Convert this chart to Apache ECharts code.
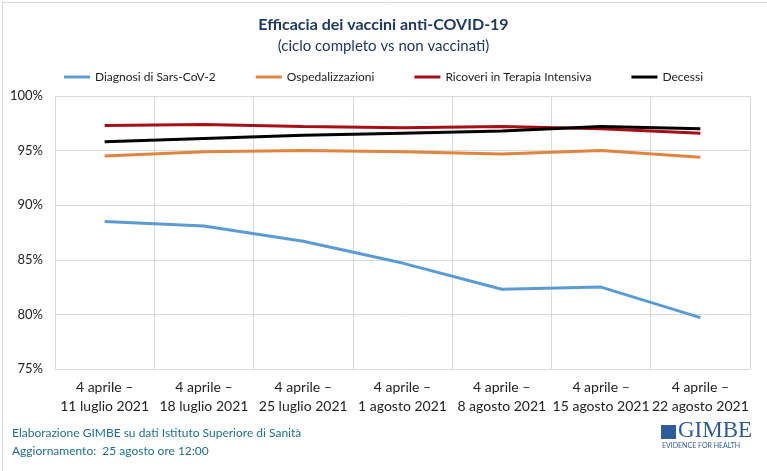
<!DOCTYPE html>
<html>
<head>
<meta charset="utf-8">
<script src="https://cdn.jsdelivr.net/npm/echarts@6/dist/echarts.min.js"></script>
<style>
html, body { margin: 0; padding: 0; background: #fff; }
#main { width: 767px; height: 471px; }
</style>
</head>
<body>
<div id="main"></div>
<script>
var categories = ['4 aprile –\n11 luglio 2021', '4 aprile –\n18 luglio 2021', '4 aprile –\n25 luglio 2021',
    '4 aprile –\n1 agosto 2021', '4 aprile –\n8 agosto 2021', '4 aprile –\n15 agosto 2021', '4 aprile –\n22 agosto 2021'];
var diagnosi = [88.5, 88.1, 86.7, 84.7, 82.3, 82.5, 79.7];
var ospedalizzazioni = [94.5, 94.9, 95.0, 94.9, 94.7, 95.0, 94.4];
var terapiaIntensiva = [97.3, 97.4, 97.2, 97.1, 97.2, 97.0, 96.6];
var decessi = [95.8, 96.1, 96.4, 96.6, 96.8, 97.2, 97.0];

var font = 'Lato';
var dom = document.getElementById('main');
var myChart = echarts.init(dom);

function line(name, data, color) {
    return {
        name: name,
        type: 'line',
        data: data,
        symbol: 'none',
        lineStyle: {color: color, width: 3},
        itemStyle: {color: color}
    };
}

var option = {
    backgroundColor: '#fff',
    animation: false,
    textStyle: {fontFamily: font},
    title: {
        text: 'Efficacia dei vaccini anti-COVID-19',
        subtext: '(ciclo completo vs non vaccinati)',
        left: 'center',
        top: 12,
        itemGap: 6,
        textStyle: {fontFamily: font, fontSize: 16, fontWeight: 'bold', color: '#1f3864'},
        subtextStyle: {fontFamily: font, fontSize: 15, color: '#1f3864'}
    },
    legend: {
        top: 66,
        left: 'center',
        itemGap: 40,
        itemWidth: 26,
        itemHeight: 3,
        icon: 'rect',
        textStyle: {fontFamily: font, fontSize: 12, color: '#222'},
        data: ['Diagnosi di Sars-CoV-2', 'Ospedalizzazioni', 'Ricoveri in Terapia Intensiva', 'Decessi']
    },
    grid: {left: 55, right: 17, top: 96, bottom: 102},
    xAxis: {
        type: 'category',
        data: categories,
        boundaryGap: true,
        axisLine: {lineStyle: {color: '#d9d9d9'}},
        axisTick: {show: false},
        splitLine: {show: true, lineStyle: {color: '#d9d9d9'}},
        axisLabel: {fontFamily: font, fontSize: 14, color: '#222', lineHeight: 19, margin: 9, interval: 0}
    },
    yAxis: {
        type: 'value',
        min: 75,
        max: 100,
        interval: 5,
        axisLine: {show: false},
        axisTick: {show: false},
        splitLine: {lineStyle: {color: '#d9d9d9'}},
        axisLabel: {fontFamily: font, fontSize: 13, color: '#222', margin: 12, formatter: '{value}%'}
    },
    series: [
        line('Diagnosi di Sars-CoV-2', diagnosi, '#5b9bd5'),
        line('Ospedalizzazioni', ospedalizzazioni, '#e0843f'),
        line('Ricoveri in Terapia Intensiva', terapiaIntensiva, '#a50f15'),
        line('Decessi', decessi, '#000000')
    ],
    graphic: [
        {type: 'text', left: 12, top: 427, style: {text: 'Elaborazione GIMBE su dati Istituto Superiore di Sanità', fill: '#1f6f8b', font: '12px ' + font}},
        {type: 'text', left: 12, top: 445, style: {text: 'Aggiornamento:  25 agosto ore 12:00', fill: '#1f6f8b', font: '12px ' + font}},
        {type: 'rect', left: 661, top: 425, shape: {width: 15, height: 14}, style: {fill: '#2e5b9a'}},
        {type: 'text', left: 678, top: 419, style: {text: 'GIMBE', fill: '#2e5b9a', font: '23px "Liberation Serif"'}},
        {type: 'text', left: 662, top: 442, style: {text: 'EVIDENCE FOR HEALTH', fill: '#2e5b9a', font: '7px ' + font}},
        {type: 'rect', left: 0, top: 0, shape: {width: 766, height: 470}, style: {fill: 'none', stroke: '#d9d9d9', lineWidth: 1}}
    ]
};

if (option && typeof option === 'object') {
    myChart.setOption(option);
}
</script>
</body>
</html>
